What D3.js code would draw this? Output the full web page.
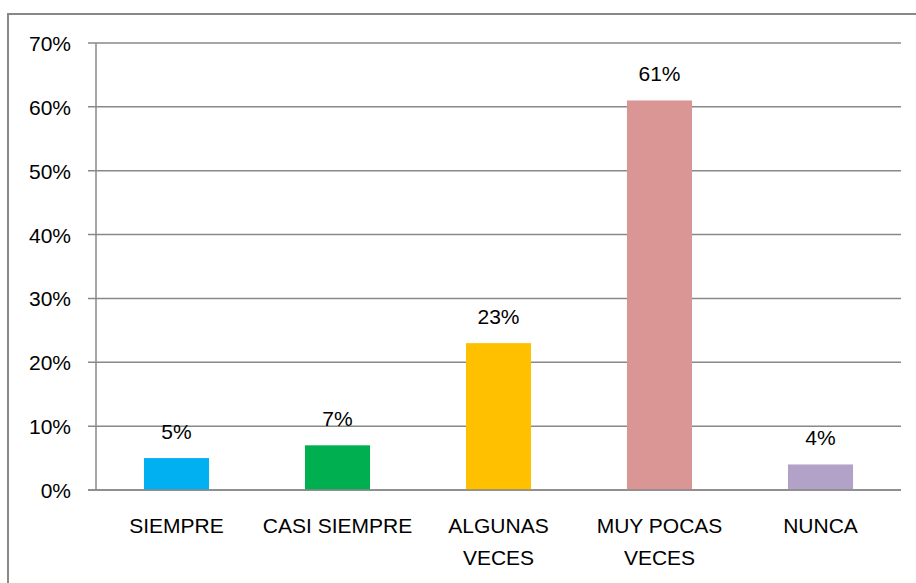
<!DOCTYPE html>
<html>
<head>
<meta charset="utf-8">
<script src="https://cdn.jsdelivr.net/npm/d3@7"></script>
<style>
  body { margin: 0; background: #fff; }
  svg text { font-family: "Liberation Sans", Arial, sans-serif; fill: #000; }
</style>
</head>
<body>
<svg id="canvas" width="916" height="583"></svg>
<script>
// chart data
var categories = ["SIEMPRE", "CASI SIEMPRE", "ALGUNAS VECES", "MUY POCAS VECES", "NUNCA"];
var labelLines = [["SIEMPRE"], ["CASI SIEMPRE"], ["ALGUNAS", "VECES"], ["MUY POCAS", "VECES"], ["NUNCA"]];
var values = [0.05, 0.07, 0.23, 0.61, 0.04];
var colors = ["#00B0F0", "#00B050", "#FFC000", "#D99694", "#B2A2C7"];
var yTicks = [0, 0.1, 0.2, 0.3, 0.4, 0.5, 0.6, 0.7];

let svg = d3.select("#canvas");

// outer frame (only top and left visible in the picture)
svg.append("rect")
    .attr("x", 8).attr("y", 14)
    .attr("width", 1000).attr("height", 1000)
    .attr("fill", "none")
    .attr("stroke", "#888")
    .attr("stroke-width", 2);

let x = d3.scaleBand().domain(categories).range([96, 901]).padding(0);
let y = d3.scaleLinear().domain([0, 0.7]).range([490, 43]);
let barW = x.bandwidth() * 0.404;
let fmt = d3.format(".0%");

// gridlines + ticks
svg.selectAll(".grid")
    .data(yTicks)
    .enter()
    .append("line")
    .attr("x1", 88).attr("x2", 901)
    .attr("y1", d => y(d)).attr("y2", d => y(d))
    .attr("stroke", "#888")
    .attr("stroke-width", 1.5);

svg.selectAll(".ylab")
    .data(yTicks)
    .enter()
    .append("text")
    .attr("x", 71)
    .attr("y", d => y(d) + 8)
    .attr("text-anchor", "end")
    .style("font-size", "21px")
    .text(d => fmt(d));

// y axis line
svg.append("line")
    .attr("x1", 96).attr("x2", 96)
    .attr("y1", y(0.7)).attr("y2", y(0) + 1)
    .attr("stroke", "#888")
    .attr("stroke-width", 1.5);

// bars
let block = svg.selectAll(".bar")
    .data(categories)
    .enter()
    .append("g");

block.append("rect")
    .attr("x", d => x(d) + x.bandwidth() / 2 - barW / 2)
    .attr("y", (d, i) => y(values[i]))
    .attr("width", barW)
    .attr("height", (d, i) => y(0) - y(values[i]))
    .attr("fill", (d, i) => colors[i]);

block.append("text")
    .attr("x", d => x(d) + x.bandwidth() / 2)
    .attr("y", (d, i) => y(values[i]) - 19)
    .attr("text-anchor", "middle")
    .style("font-size", "21px")
    .text((d, i) => fmt(values[i]));

// redraw baseline on top of bars
svg.append("line")
    .attr("x1", 88).attr("x2", 901)
    .attr("y1", y(0)).attr("y2", y(0))
    .attr("stroke", "#888")
    .attr("stroke-width", 1.5);

// category labels
block.each(function (d, i) {
    let t = d3.select(this).append("text")
        .attr("text-anchor", "middle")
        .style("font-size", "21px");
    labelLines[i].forEach(function (line, k) {
        t.append("tspan")
            .attr("x", x(d) + x.bandwidth() / 2)
            .attr("y", 533 + k * 32)
            .text(line);
    });
});
</script>
</body>
</html>
